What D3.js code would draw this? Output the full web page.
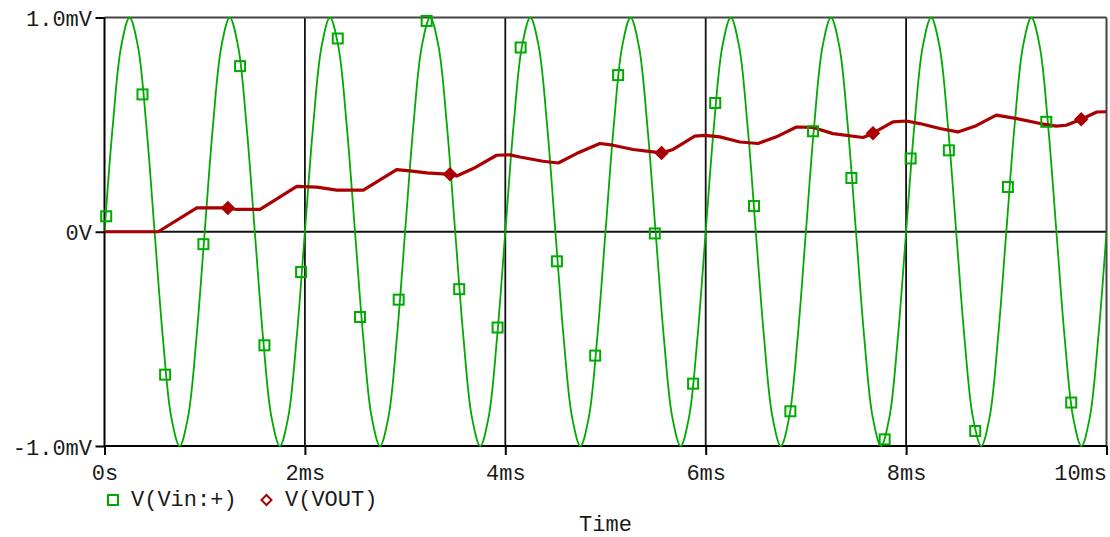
<!DOCTYPE html>
<html>
<head>
<meta charset="utf-8">
<script src="https://cdn.jsdelivr.net/npm/d3@7"></script>
<style>
  html, body { margin: 0; padding: 0; background: #fff; }
  svg { display: block; }
  text { font-family: "Liberation Mono", "DejaVu Sans Mono", monospace; font-size: 22px; fill: #1a1a1a; }
</style>
</head>
<body>
<svg id="chart" width="1110" height="537"></svg>
<script>
// Axis ticks
const timeTicks = [0, 2, 4, 6, 8, 10];                       // ms
const timeTickLabels = ["0s", "2ms", "4ms", "6ms", "8ms", "10ms"];
const voltTicks = [-1, 0, 1];                                // mV
const voltTickLabels = ["-1.0mV", "0V", "1.0mV"];
const seriesNames = ["V(Vin:+)", "V(VOUT)"];

// V(Vin:+) : input trace, sampled every 1/12 ms (mV)
const vinSamplePeriod = 1 / 12;
const vinValues = [
  0, 0.5, 0.866, 1, 0.866, 0.5, 0, -0.5, -0.866, -1, -0.866, -0.5,
  0, 0.5, 0.866, 1, 0.866, 0.5, 0, -0.5, -0.866, -1, -0.866, -0.5,
  0, 0.5, 0.866, 1, 0.866, 0.5, 0, -0.5, -0.866, -1, -0.866, -0.5,
  0, 0.5, 0.866, 1, 0.866, 0.5, 0, -0.5, -0.866, -1, -0.866, -0.5,
  0, 0.5, 0.866, 1, 0.866, 0.5, 0, -0.5, -0.866, -1, -0.866, -0.5,
  0, 0.5, 0.866, 1, 0.866, 0.5, 0, -0.5, -0.866, -1, -0.866, -0.5,
  0, 0.5, 0.866, 1, 0.866, 0.5, 0, -0.5, -0.866, -1, -0.866, -0.5,
  0, 0.5, 0.866, 1, 0.866, 0.5, 0, -0.5, -0.866, -1, -0.866, -0.5,
  0, 0.5, 0.866, 1, 0.866, 0.5, 0, -0.5, -0.866, -1, -0.866, -0.5,
  0, 0.5, 0.866, 1, 0.866, 0.5, 0, -0.5, -0.866, -1, -0.866, -0.5,
  0
];
// Marker symbols placed along V(Vin:+)
const vinMarkerTimes = [
  0.017, 0.379, 0.605, 0.987, 1.353, 1.596, 1.962, 2.328, 2.550, 2.936,
  3.215, 3.540, 3.923, 4.153, 4.515, 4.897, 5.126, 5.492, 5.874, 6.095,
  6.482, 6.845, 7.071, 7.454, 7.786, 8.045, 8.427, 8.690, 9.016, 9.399, 9.648
];
const vinMarkerValues = [
  0.072, 0.641, -0.667, -0.058, 0.773, -0.530, -0.188, 0.902, -0.398, -0.317,
  0.984, -0.268, -0.447, 0.860, -0.138, -0.578, 0.731, -0.008, -0.709, 0.601,
  0.120, -0.838, 0.469, 0.251, -0.969, 0.342, 0.380, -0.930, 0.209, 0.513, -0.797
];

// V(VOUT) : output trace (ms, mV)
const voutTimes = [
  0, 0.536, 0.921, 1.221, 1.320, 1.553, 1.919, 2.118, 2.318, 2.583,
  2.916, 3.049, 3.215, 3.450, 3.515, 3.680, 3.913, 4.046, 4.146, 4.375,
  4.528, 4.711, 4.944, 5.074, 5.276, 5.475, 5.559, 5.675, 5.891, 5.991,
  6.141, 6.341, 6.522, 6.706, 6.905, 7.071, 7.270, 7.570, 7.669, 7.869,
  8.003, 8.136, 8.336, 8.517, 8.700, 8.900, 9.105, 9.338, 9.498, 9.598,
  9.748, 9.903, 10
];
const voutValues = [
  0, 0, 0.111, 0.111, 0.104, 0.104, 0.212, 0.208, 0.194, 0.194,
  0.290, 0.284, 0.275, 0.268, 0.260, 0.295, 0.357, 0.359, 0.349, 0.329,
  0.321, 0.365, 0.412, 0.404, 0.384, 0.373, 0.368, 0.384, 0.446, 0.450,
  0.443, 0.419, 0.412, 0.443, 0.489, 0.487, 0.458, 0.440, 0.460, 0.513,
  0.517, 0.505, 0.482, 0.466, 0.495, 0.544, 0.528, 0.505, 0.493, 0.497,
  0.525, 0.559, 0.560
];
const voutMarkerTimes = [1.231, 3.448, 5.559, 7.669, 9.748];
const voutMarkerValues = [0.111, 0.268, 0.368, 0.460, 0.525];

const vinColor = "#00aa00";
const voutColor = "#aa0000";

const svg = d3.select("#chart");
const x = d3.scaleLinear().domain([0, 10]).range([104.5, 1106.5]);
const y = d3.scaleLinear().domain([-1, 1]).range([446, 17.5]);
const [x0, x1] = x.range();
const [yb, yt] = y.range();

svg.append("defs").append("clipPath").attr("id", "plotClip")
  .append("rect").attr("x", x0).attr("y", yt - 1).attr("width", x1 - x0).attr("height", yb - yt + 2);

// Grid lines
const grid = svg.append("g").attr("stroke", "#111").attr("stroke-width", 1.8);
grid.selectAll("line.v").data(timeTicks.slice(1, -1)).join("line")
  .attr("x1", d => x(d)).attr("x2", d => x(d)).attr("y1", yt).attr("y2", yb);
grid.append("line").attr("x1", x0).attr("x2", x1).attr("y1", y(0)).attr("y2", y(0));

// Frame
svg.append("line").attr("x1", x0).attr("x2", x1).attr("y1", yt).attr("y2", yt)
  .attr("stroke", "#444").attr("stroke-width", 2);
svg.append("line").attr("x1", x1).attr("x2", x1).attr("y1", yt).attr("y2", yb)
  .attr("stroke", "#444").attr("stroke-width", 2);

// Axes
const xAxis = svg.append("g").attr("transform", `translate(0,${yb})`)
  .call(d3.axisBottom(x).tickValues(timeTicks).tickFormat((d, i) => timeTickLabels[i]).tickSize(9));
const yAxis = svg.append("g").attr("transform", `translate(${x0},0)`)
  .call(d3.axisLeft(y).tickValues(voltTicks).tickFormat((d, i) => voltTickLabels[i]).tickSize(9));
[xAxis, yAxis].forEach(g => {
  g.attr("font-family", null).attr("font-size", null);
  g.select(".domain").attr("stroke", "#000").attr("stroke-width", 2);
  g.selectAll(".tick line").attr("stroke", "#000").attr("stroke-width", 2);
  g.selectAll(".tick text").attr("fill", "#1a1a1a");
});
xAxis.select(".domain").attr("d", `M${x0},0H${x1}`);
yAxis.select(".domain").attr("d", `M0,${yb}V${yt}`);
xAxis.selectAll(".tick text").attr("y", 34).attr("dy", null);
xAxis.selectAll(".tick text").filter(d => d === 10).attr("text-anchor", "end").attr("x", 0);
yAxis.selectAll(".tick text").attr("x", -12.5).attr("y", 8).attr("dy", null);

const plot = svg.append("g").attr("clip-path", "url(#plotClip)");

// V(Vin:+)
const vinData = vinValues.map((v, i) => [i * vinSamplePeriod, v]);
plot.append("path").datum(vinData)
  .attr("fill", "none").attr("stroke", vinColor).attr("stroke-width", 1.8)
  .attr("d", d3.line().x(d => x(d[0])).y(d => y(d[1])).curve(d3.curveCatmullRom.alpha(0.5)));

const sq = 10;
svg.append("g").selectAll("rect").data(vinMarkerTimes.map((t, i) => [t, vinMarkerValues[i]])).join("rect")
  .attr("x", d => x(d[0]) - sq / 2).attr("y", d => y(d[1]) - sq / 2)
  .attr("width", sq).attr("height", sq)
  .attr("fill", "none").attr("stroke", vinColor).attr("stroke-width", 2);

// V(VOUT)
const voutData = voutTimes.map((t, i) => [t, voutValues[i]]);
plot.append("path").datum(voutData)
  .attr("fill", "none").attr("stroke", voutColor).attr("stroke-width", 3.2)
  .attr("stroke-linejoin", "round")
  .attr("d", d3.line().x(d => x(d[0])).y(d => y(d[1])));

const diamond = (cx, cy, r) => `M${cx},${cy - r}L${cx + r},${cy}L${cx},${cy + r}L${cx - r},${cy}Z`;
svg.append("g").selectAll("path").data(voutMarkerTimes.map((t, i) => [t, voutMarkerValues[i]])).join("path")
  .attr("d", d => diamond(x(d[0]), y(d[1]), 5.5))
  .attr("fill", voutColor).attr("stroke", voutColor).attr("stroke-width", 2.5).attr("stroke-linejoin", "miter");

// Legend
const legend = svg.append("g");
legend.append("rect").attr("x", 108).attr("y", 495).attr("width", 10).attr("height", 10)
  .attr("fill", "none").attr("stroke", vinColor).attr("stroke-width", 2);
legend.append("text").attr("x", 131).attr("y", 506).text(seriesNames[0]);
legend.append("path").attr("d", diamond(266.5, 500, 5))
  .attr("fill", "none").attr("stroke", voutColor).attr("stroke-width", 2);
legend.append("text").attr("x", 285).attr("y", 506).text(seriesNames[1]);

// Axis title
svg.append("text").attr("x", (x0 + x1) / 2).attr("y", 531).attr("text-anchor", "middle").text("Time");
</script>
</body>
</html>
